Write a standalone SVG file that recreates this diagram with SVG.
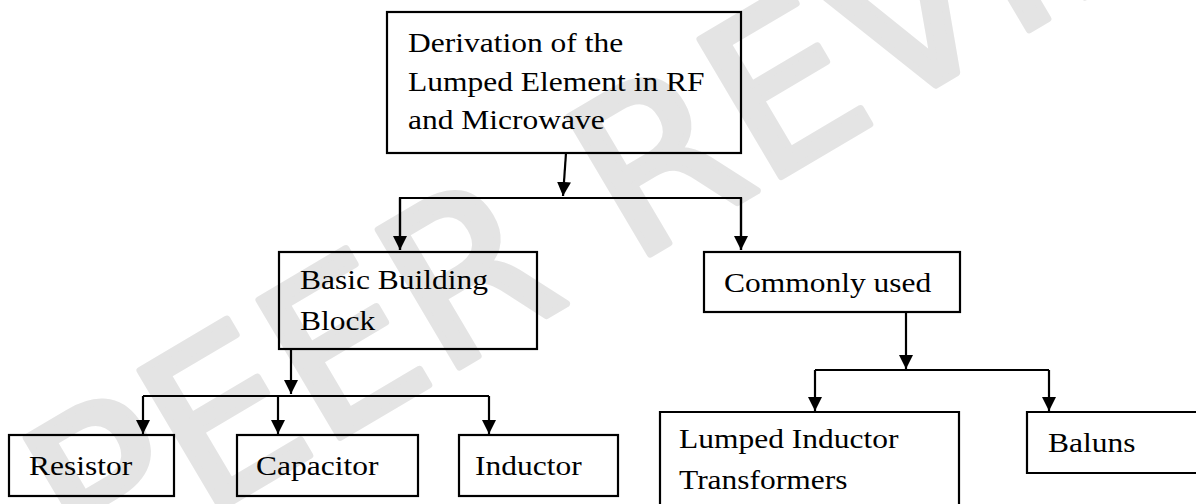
<svg xmlns="http://www.w3.org/2000/svg" width="1196" height="504" viewBox="0 0 1196 504">
<style>
.bg{fill:#ffffff}
.wm{font-family:"DejaVu Sans",sans-serif;font-size:219px;fill:#e4e4e4;stroke:#e4e4e4;stroke-width:7;stroke-linejoin:round;stroke-linecap:round}
.box{fill:none;stroke:#000;stroke-width:2.2}
.t{font-family:"Liberation Serif","Times New Roman",serif;font-size:28px;fill:#000}
.c{fill:none;stroke:#000;stroke-width:2.2}
</style>
<defs>
<marker id="ah" markerUnits="userSpaceOnUse" markerWidth="16" markerHeight="16" refX="14" refY="7" orient="auto">
<path d="M0,0 L14,7 L0,14 Z" fill="#000"/>
</marker>
</defs>
<rect class="bg" x="0" y="0" width="1196" height="504"/>
<text class="wm" transform="translate(89,586) rotate(-30.6)">PEER REVIEW</text>

<g id="connectors">
<path class="c" d="M566,153 L563,196" marker-end="url(#ah)"/>
<path class="c" d="M400,250 L400,198 L741,198 L741,250"/>
<path class="c" d="M400,198 L400,250" marker-end="url(#ah)"/>
<path class="c" d="M741,198 L741,250" marker-end="url(#ah)"/>
<path class="c" d="M291,349 L291,394" marker-end="url(#ah)"/>
<path class="c" d="M143,396 L489,396"/>
<path class="c" d="M143,396 L143,434" marker-end="url(#ah)"/>
<path class="c" d="M278,396 L278,434" marker-end="url(#ah)"/>
<path class="c" d="M489,396 L489,434" marker-end="url(#ah)"/>
<path class="c" d="M906,312 L906,369" marker-end="url(#ah)"/>
<path class="c" d="M815,370 L1049,370"/>
<path class="c" d="M815,370 L815,411" marker-end="url(#ah)"/>
<path class="c" d="M1049,370 L1049,411" marker-end="url(#ah)"/>
</g>

<g id="root">
<rect class="box" x="387" y="12" width="354" height="141"/>
<text class="t" transform="translate(408,52) scale(1.125,1)">Derivation of the</text>
<text class="t" transform="translate(408,91) scale(1.125,1)">Lumped Element in RF</text>
<text class="t" transform="translate(408,129) scale(1.125,1)">and Microwave</text>
</g>
<g id="basic">
<rect class="box" x="279" y="252" width="258" height="97"/>
<text class="t" transform="translate(300,289) scale(1.125,1)">Basic Building</text>
<text class="t" transform="translate(300,330) scale(1.125,1)">Block</text>
</g>
<g id="common">
<rect class="box" x="704" y="252" width="256" height="60"/>
<text class="t" transform="translate(724,292) scale(1.125,1)">Commonly used</text>
</g>
<g id="resistor">
<rect class="box" x="9" y="435" width="165" height="61"/>
<text class="t" transform="translate(29,475) scale(1.125,1)">Resistor</text>
</g>
<g id="capacitor">
<rect class="box" x="237" y="435" width="181" height="61"/>
<text class="t" transform="translate(256,475) scale(1.125,1)">Capacitor</text>
</g>
<g id="inductor">
<rect class="box" x="459" y="435" width="159" height="61"/>
<text class="t" transform="translate(475,475) scale(1.125,1)">Inductor</text>
</g>
<g id="lumped">
<path class="box" d="M660,515 L660,412 L959,412 L959,515"/>
<text class="t" transform="translate(679,448) scale(1.125,1)">Lumped Inductor</text>
<text class="t" transform="translate(679,489) scale(1.125,1)">Transformers</text>
</g>
<g id="baluns">
<path class="box" d="M1200,412 L1027,412 L1027,473 L1200,473"/>
<text class="t" transform="translate(1048,452) scale(1.125,1)">Baluns</text>
</g>
</svg>
